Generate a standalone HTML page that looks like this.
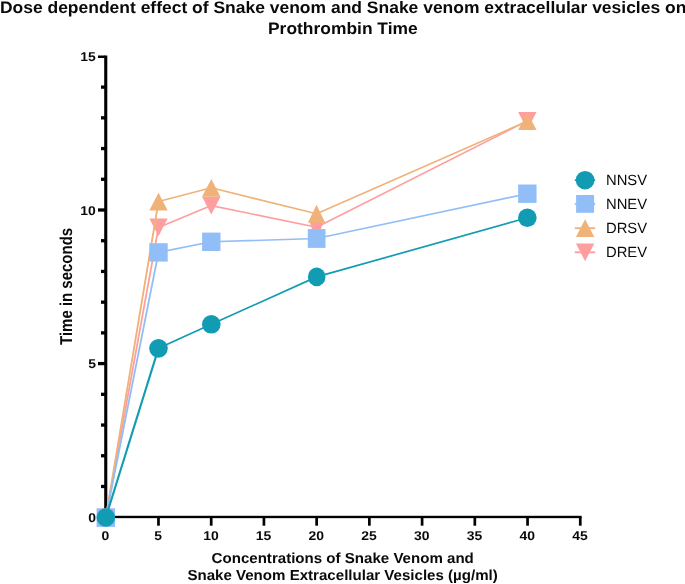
<!DOCTYPE html><html><head><meta charset="utf-8"><title>Prothrombin Time</title>
<style>html,body{margin:0;padding:0;background:#fff;overflow:hidden}svg{display:block;will-change:transform}text{font-family:"Liberation Sans",sans-serif;fill:#0a0a0a;text-rendering:geometricPrecision}</style></head><body>
<svg width="685" height="584" viewBox="0 0 685 584">
<rect width="685" height="584" fill="#fff"/>
<g fill="#000">
<rect x="104.2" y="55.5" width="3.1" height="462.65"/>
<rect x="104.2" y="515.8" width="477.40" height="2.35"/>
<rect x="101.0" y="484.83" width="4.0" height="3.3"/>
<rect x="101.0" y="454.11" width="4.0" height="3.3"/>
<rect x="101.0" y="423.39" width="4.0" height="3.3"/>
<rect x="101.0" y="392.67" width="4.0" height="3.3"/>
<rect x="98.0" y="361.95" width="7.0" height="3.3"/>
<rect x="101.0" y="331.23" width="4.0" height="3.3"/>
<rect x="101.0" y="300.51" width="4.0" height="3.3"/>
<rect x="101.0" y="269.79" width="4.0" height="3.3"/>
<rect x="101.0" y="239.07" width="4.0" height="3.3"/>
<rect x="98.0" y="208.35" width="7.0" height="3.3"/>
<rect x="101.0" y="177.63" width="4.0" height="3.3"/>
<rect x="101.0" y="146.91" width="4.0" height="3.3"/>
<rect x="101.0" y="116.19" width="4.0" height="3.3"/>
<rect x="101.0" y="85.47" width="4.0" height="3.3"/>
<rect x="98.0" y="55.5" width="7.0" height="2.5"/>
<rect x="157.12" y="517" width="2.7" height="8.7"/>
<rect x="209.85" y="517" width="2.7" height="8.7"/>
<rect x="262.57" y="517" width="2.7" height="8.7"/>
<rect x="315.30" y="517" width="2.7" height="8.7"/>
<rect x="368.02" y="517" width="2.7" height="8.7"/>
<rect x="420.75" y="517" width="2.7" height="8.7"/>
<rect x="473.47" y="517" width="2.7" height="8.7"/>
<rect x="526.20" y="517" width="2.7" height="8.7"/>
<rect x="578.92" y="517" width="2.7" height="8.7"/>
</g>
<text transform="translate(95.9 522.00) scale(1.1 1)" text-anchor="end" font-size="12.7" font-weight="bold">0</text>
<text transform="translate(95.9 368.40) scale(1.1 1)" text-anchor="end" font-size="12.7" font-weight="bold">5</text>
<text transform="translate(95.9 214.80) scale(1.1 1)" text-anchor="end" font-size="12.7" font-weight="bold">10</text>
<text transform="translate(95.9 61.20) scale(1.1 1)" text-anchor="end" font-size="12.7" font-weight="bold">15</text>
<text transform="translate(105.45 539.9) scale(1.1 1)" text-anchor="middle" font-size="12.7" font-weight="bold">0</text>
<text transform="translate(158.17 539.9) scale(1.1 1)" text-anchor="middle" font-size="12.7" font-weight="bold">5</text>
<text transform="translate(210.90 539.9) scale(1.1 1)" text-anchor="middle" font-size="12.7" font-weight="bold">10</text>
<text transform="translate(263.62 539.9) scale(1.1 1)" text-anchor="middle" font-size="12.7" font-weight="bold">15</text>
<text transform="translate(316.35 539.9) scale(1.1 1)" text-anchor="middle" font-size="12.7" font-weight="bold">20</text>
<text transform="translate(369.07 539.9) scale(1.1 1)" text-anchor="middle" font-size="12.7" font-weight="bold">25</text>
<text transform="translate(421.80 539.9) scale(1.1 1)" text-anchor="middle" font-size="12.7" font-weight="bold">30</text>
<text transform="translate(474.52 539.9) scale(1.1 1)" text-anchor="middle" font-size="12.7" font-weight="bold">35</text>
<text transform="translate(527.25 539.9) scale(1.1 1)" text-anchor="middle" font-size="12.7" font-weight="bold">40</text>
<text transform="translate(579.98 539.9) scale(1.1 1)" text-anchor="middle" font-size="12.7" font-weight="bold">45</text>
<text transform="translate(-0.1 13.3) scale(1.0528 1)" font-size="16.6" font-weight="bold">Dose dependent effect of Snake venom and Snake venom extracellular vesicles on</text>
<text transform="translate(342.85 33.6) scale(1.05 1)" text-anchor="middle" font-size="16.6" font-weight="bold">Prothrombin Time</text>
<text transform="translate(342.7 562.9) scale(1.04 1)" text-anchor="middle" font-size="14.5" font-weight="bold">Concentrations of Snake Venom and</text>
<text transform="translate(342.6 580.3) scale(1.04 1)" text-anchor="middle" font-size="14.5" font-weight="bold">Snake Venom Extracellular Vesicles (µg/ml)</text>
<text transform="translate(72 286.4) rotate(-90) scale(0.871 1)" text-anchor="middle" font-size="17.2" font-weight="bold">Time in seconds</text>
<path d="M105.80 517.40 L158.50 227.40" fill="none" stroke="#FF9E9E" stroke-width="1.75"/><polyline points="158.50,227.40 211.30,205.60 316.60,227.20 527.35,120.90" fill="none" stroke="#FF9E9E" stroke-width="1.6" stroke-linejoin="round"/>
<polygon points="105.80,526.30 115.00,508.50 96.60,508.50" fill="#FF9E9E"/>
<polygon points="158.50,236.30 167.70,218.50 149.30,218.50" fill="#FF9E9E"/>
<polygon points="211.30,214.50 220.50,196.70 202.10,196.70" fill="#FF9E9E"/>
<polygon points="309.4,221 323.5,221 320.0,232 312.9,232" fill="#FF9E9E"/>
<polygon points="527.35,129.80 536.55,112.00 518.15,112.00" fill="#FF9E9E"/>
<path d="M105.80 517.40 L158.50 201.60" fill="none" stroke="#EFB278" stroke-width="1.85"/><polyline points="158.50,201.60 211.30,187.80 316.60,213.80 527.35,121.20" fill="none" stroke="#EFB278" stroke-width="1.6" stroke-linejoin="round"/>
<polygon points="105.80,508.50 115.00,526.30 96.60,526.30" fill="#EFB278"/>
<polygon points="158.50,192.70 167.70,210.50 149.30,210.50" fill="#EFB278"/>
<polygon points="211.30,178.90 220.50,196.70 202.10,196.70" fill="#EFB278"/>
<polygon points="316.55,204.85 325.20,222.75 307.90,222.75" fill="#EFB278"/>
<polygon points="527.35,112.30 536.55,130.10 518.15,130.10" fill="#EFB278"/>
<path d="M105.80 517.70 L158.50 252.40" fill="none" stroke="#92BEF8" stroke-width="1.8"/><polyline points="158.50,252.40 211.30,241.80 316.60,238.50 527.35,193.70" fill="none" stroke="#92BEF8" stroke-width="1.6" stroke-linejoin="round"/>
<rect x="96.60" y="508.50" width="18.4" height="18.4" fill="#92BEF8"/>
<rect x="149.30" y="243.20" width="18.4" height="18.4" fill="#92BEF8"/>
<rect x="202.10" y="232.60" width="18.4" height="18.4" fill="#92BEF8"/>
<rect x="307.80" y="229.10" width="17.7" height="18.8" fill="#92BEF8"/>
<rect x="518.15" y="184.50" width="18.4" height="18.4" fill="#92BEF8"/>
<path d="M105.80 517.50 L158.50 348.35" fill="none" stroke="#119CB4" stroke-width="2.1"/><polyline points="158.50,348.35 211.30,324.30 316.60,276.90 527.35,217.75" fill="none" stroke="#119CB4" stroke-width="1.7" stroke-linejoin="round"/>
<circle cx="105.80" cy="517.50" r="9.3" fill="#119CB4"/>
<circle cx="158.50" cy="348.35" r="9.3" fill="#119CB4"/>
<circle cx="211.30" cy="324.30" r="9.3" fill="#119CB4"/>
<ellipse cx="316.7" cy="276.9" rx="8.8" ry="9.4" fill="#119CB4"/>
<circle cx="527.35" cy="217.75" r="9.3" fill="#119CB4"/>
<path d="M574.8 180.2 H595.2" stroke="#119CB4" stroke-width="1.9"/>
<circle cx="585.10" cy="180.20" r="9.3" fill="#119CB4"/>
<text x="606.0" y="185.00" font-size="14.8">NNSV</text>
<path d="M574.8 203.9 H595.2" stroke="#92BEF8" stroke-width="1.9"/>
<rect x="576.10" y="195.00" width="18.0" height="17.8" fill="#92BEF8"/>
<text x="606.0" y="208.70" font-size="14.8">NNEV</text>
<path d="M574.8 228.2 H595.2" stroke="#EFB278" stroke-width="1.9"/>
<polygon points="585.10,219.30 594.30,237.10 575.90,237.10" fill="#EFB278"/>
<text x="606.0" y="233.00" font-size="14.8">DRSV</text>
<path d="M574.8 252.3 H595.2" stroke="#FF9E9E" stroke-width="1.9"/>
<polygon points="585.10,261.20 594.30,243.40 575.90,243.40" fill="#FF9E9E"/>
<text x="606.0" y="257.10" font-size="14.8">DREV</text>
</svg></body></html>
